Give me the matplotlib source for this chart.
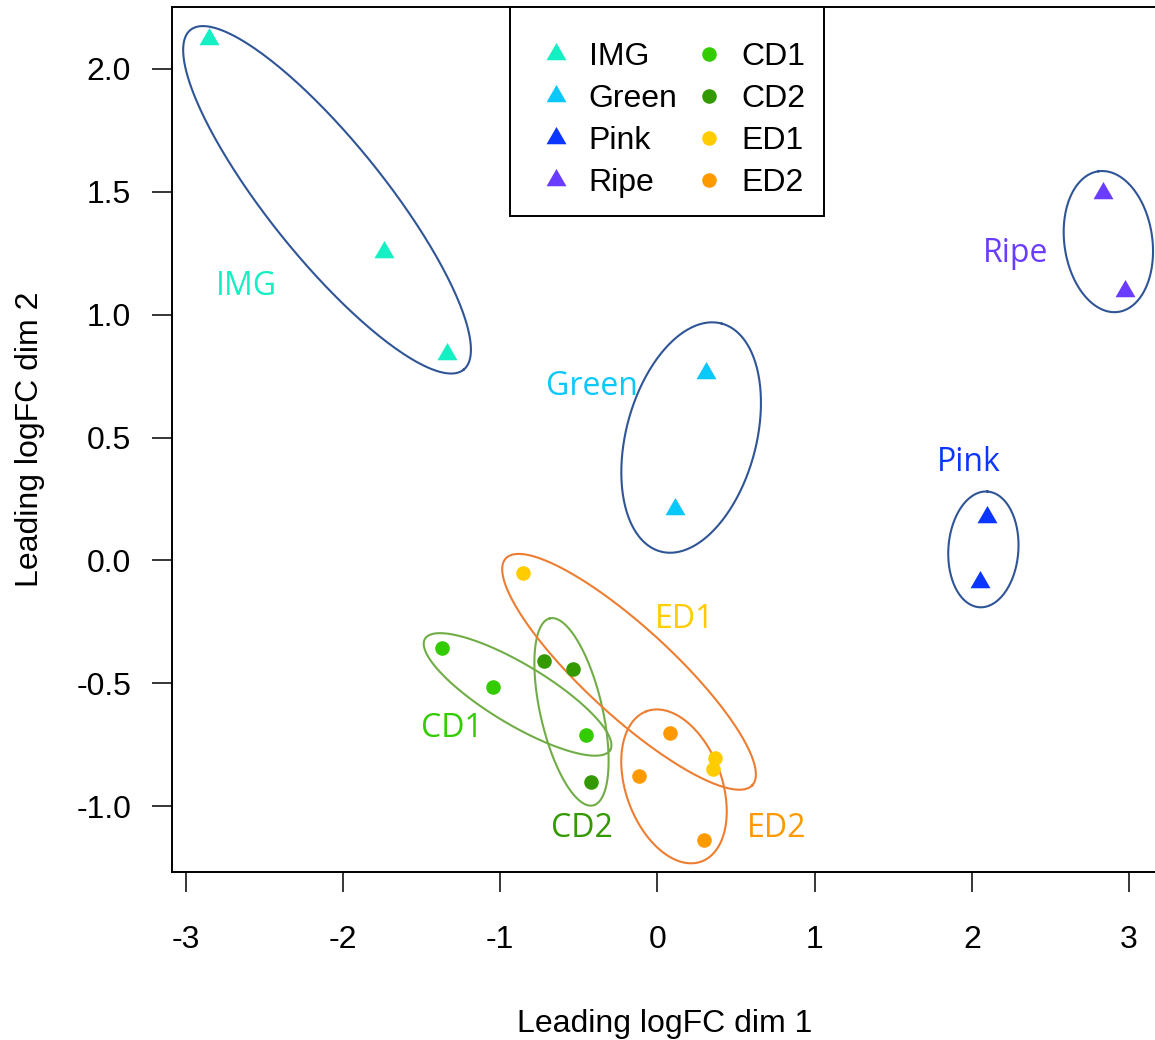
import numpy as np
import matplotlib
matplotlib.use("Agg")
import matplotlib.pyplot as plt
from matplotlib.lines import Line2D

plt.rcParams['font.family'] = ['Liberation Sans', 'DejaVu Sans']
plt.rcParams['axes.unicode_minus'] = False

# MDS coordinates (leading logFC dims 1 and 2) per sample group
img_x = [-2.855, -1.742, -1.342]
img_y = [2.121, 1.254, 0.838]
green_x = [0.310, 0.110]
green_y = [0.763, 0.208]
pink_x = [2.097, 2.054]
pink_y = [0.176, -0.087]
ripe_x = [2.832, 2.976]
ripe_y = [1.493, 1.096]
cd1_x = [-1.369, -1.045, -0.453]
cd1_y = [-0.358, -0.513, -0.711]
cd2_x = [-0.723, -0.539, -0.426]
cd2_y = [-0.407, -0.440, -0.901]
ed1_x = [-0.858, 0.364, 0.352]
ed1_y = [-0.052, -0.805, -0.850]
ed2_x = [0.078, -0.119, 0.299]
ed2_y = [-0.703, -0.877, -1.137]

group_names = ["IMG", "Green", "Pink", "Ripe", "CD1", "CD2", "ED1", "ED2"]
group_x = [img_x, green_x, pink_x, ripe_x, cd1_x, cd2_x, ed1_x, ed2_x]
group_y = [img_y, green_y, pink_y, ripe_y, cd1_y, cd2_y, ed1_y, ed2_y]
group_colors = ["#14EFC4", "#0AC8FA", "#0A36FF", "#6A3CFF",
                "#33CC00", "#339900", "#FFCC00", "#FF9900"]

# R-style solid triangle (pch 17), centred on its centroid
tri = [(0, 1), (0.866, -0.5), (-0.866, -0.5)]
group_markers = [tri] * 4 + ["o"] * 4
marker_sizes = [16.6] * 4 + [10.5] * 4

# where each group name is written (baseline, centred)
label_x = [-2.614, -0.420, 1.978, 2.280, -1.310, -0.483, 0.172, 0.757]
label_y = [1.081, 0.675, 0.362, 1.215, -0.720, -1.126, -0.276, -1.126]

# hand-drawn rings round each group: centre (data), major/minor (px), angle (deg)
ring_cx = [-2.102, 0.214, 2.073, 2.868, -0.890, -0.547, -0.181, 0.105]
ring_cy = [1.467, 0.500, 0.045, 1.297, -0.545, -0.616, -0.453, -0.919]
ring_major = [436, 236, 116, 142, 216, 192, 335, 160]
ring_minor = [116, 130, 70, 88, 60, 62, 88, 96]
ring_angle = [-51.2, 75, 86, 98, -31, 103, -42.6, 110]
ring_colors = ["#2F5597"] * 4 + ["#70AD47"] * 2 + ["#ED7D31"] * 2

fig = plt.figure(figsize=(11.55, 10.4), dpi=100)
ax = fig.add_axes([172 / 1155, 1 - 872 / 1040, 990 / 1155, 865 / 1040])

for xs, ys, col, mk, ms in zip(group_x, group_y, group_colors, group_markers, marker_sizes):
    ax.plot(xs, ys, linestyle="none", marker=mk, markersize=ms,
            markerfacecolor=col, markeredgewidth=0, zorder=3)

# R pads the data range by 4% on each side
ax.margins(0.04)
ax.autoscale_view()
xl = ax.get_xlim()
yl = ax.get_ylim()
ax.set_xlim(xl)
ax.set_ylim(yl)
ax.autoscale(False)

ppx = ax.bbox.width / (xl[1] - xl[0])
ppy = ax.bbox.height / (yl[1] - yl[0])
t = np.linspace(0, 2 * np.pi, 300)
for cx, cy, a, b, ang, col in zip(ring_cx, ring_cy, ring_major, ring_minor, ring_angle, ring_colors):
    th = np.deg2rad(ang)
    u = a / 2 * np.cos(t)
    v = b / 2 * np.sin(t)
    dx = u * np.cos(th) - v * np.sin(th)
    dy = u * np.sin(th) + v * np.cos(th)
    ax.plot(cx + dx / ppx, cy + dy / ppy, color=col, linewidth=1.5, zorder=2)

for name, lx, ly, col in zip(group_names, label_x, label_y, group_colors):
    ax.text(lx, ly, name, color=col, fontsize=23, family=["Open Sans", "DejaVu Sans"],
            ha="center", va="baseline", zorder=4)

ax.set_xticks([-3, -2, -1, 0, 1, 2, 3])
ax.set_xticklabels(["-3", "-2", "-1", "0", "1", "2", "3"])
ax.set_yticks([-1.0, -0.5, 0.0, 0.5, 1.0, 1.5, 2.0])
ax.set_yticklabels(["-1.0", "-0.5", "0.0", "0.5", "1.0", "1.5", "2.0"])
ax.tick_params(axis="both", direction="out", length=14.4, width=1.1, labelsize=23, colors="black")
ax.tick_params(axis="x", pad=24)
ax.tick_params(axis="y", pad=15)
for s in ax.spines.values():
    s.set_linewidth(1.4)

ax.set_xlabel("Leading logFC dim 1", fontsize=23)
ax.set_ylabel("Leading logFC dim 2", fontsize=23)
ax.xaxis.set_label_coords(0.498, -0.158)
ax.yaxis.set_label_coords(-0.128, 0.5)

handles = [Line2D([], [], linestyle="none", marker=mk, markersize=ms,
                  markerfacecolor=col, markeredgewidth=0)
           for col, mk, ms in zip(group_colors, group_markers, marker_sizes)]
# a blank, tiny title gives the extra head room above the first row
leg = ax.legend(handles, group_names, ncol=2, loc="upper center", fontsize=23,
                title=" ", title_fontsize=4,
                frameon=True, fancybox=False, framealpha=1, edgecolor="black",
                borderaxespad=0, borderpad=0.555, handlelength=1.71, handletextpad=0.18,
                columnspacing=0.12, labelspacing=0.38)
leg.get_frame().set_linewidth(1.4)

fig.savefig("out.png", dpi=100)
